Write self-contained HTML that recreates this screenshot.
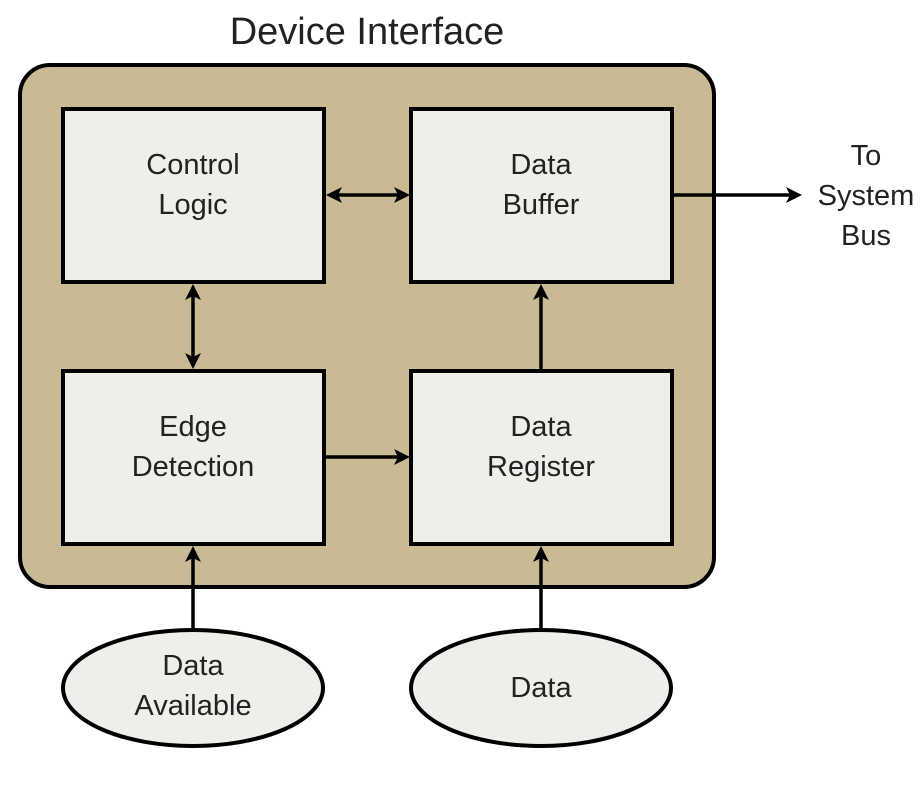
<!DOCTYPE html>
<html><head><style>
html,body{margin:0;padding:0;background:#fff;}
svg{display:block;}
text{font-family:"Liberation Sans",sans-serif;fill:#222;text-anchor:middle;}
</style></head><body>
<svg width="920" height="790" viewBox="0 0 920 790">
<text x="367" y="44" font-size="38">Device Interface</text>
<rect x="20" y="65" width="694" height="522" rx="30" fill="#c8ba93" stroke="#000" stroke-width="4"/>
<g fill="#eeeeea" stroke="#000" stroke-width="4">
<rect x="63" y="109" width="261" height="173"/>
<rect x="411" y="109" width="261" height="173"/>
<rect x="63" y="371" width="261" height="173"/>
<rect x="411" y="371" width="261" height="173"/>
<ellipse cx="193" cy="688" rx="130" ry="58"/>
<ellipse cx="541" cy="688" rx="130" ry="58"/>
</g>
<g stroke="#000" stroke-width="3.5" fill="none">
<line x1="336" y1="195" x2="400" y2="195"/>
<line x1="193" y1="294" x2="193" y2="359"/>
<line x1="326" y1="457" x2="398" y2="457"/>
<line x1="541" y1="369" x2="541" y2="296"/>
<line x1="674" y1="195" x2="790" y2="195"/>
<line x1="193" y1="630" x2="193" y2="558"/>
<line x1="541" y1="630" x2="541" y2="558"/>
</g>
<g fill="#000">
<polygon points="326,195 342,187 338,195 342,203"/>
<polygon points="410,195 394,187 398,195 394,203"/>
<polygon points="193,284 185,300 193,296 201,300"/>
<polygon points="193,369 185,353 193,357 201,353"/>
<polygon points="410,457 394,449 398,457 394,465"/>
<polygon points="541,284 533,300 541,296 549,300"/>
<polygon points="802,195 786,187 790,195 786,203"/>
<polygon points="193,546 185,562 193,558 201,562"/>
<polygon points="541,546 533,562 541,558 549,562"/>
</g>
<g font-size="29">
<text x="193" y="174">Control</text><text x="193" y="214">Logic</text>
<text x="541" y="174">Data</text><text x="541" y="214">Buffer</text>
<text x="193" y="436">Edge</text><text x="193" y="476">Detection</text>
<text x="541" y="436">Data</text><text x="541" y="476">Register</text>
<text x="193" y="675">Data</text><text x="193" y="715">Available</text>
<text x="541" y="697">Data</text>
<text x="866" y="165">To</text><text x="866" y="205">System</text><text x="866" y="245">Bus</text>
</g>
</svg>
</body></html>
